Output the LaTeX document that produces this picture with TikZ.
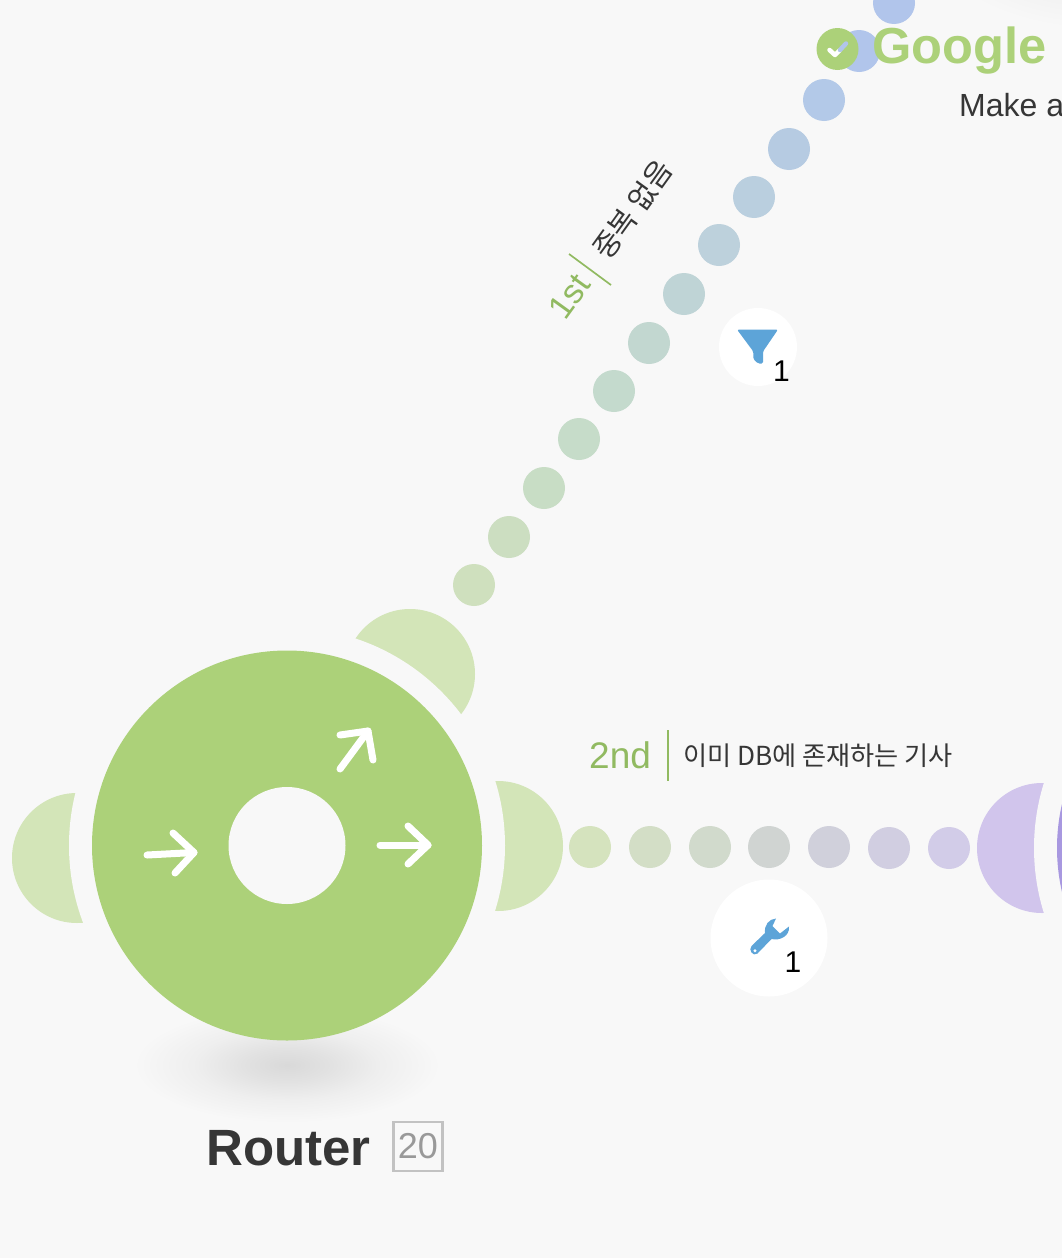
\documentclass[tikz,border=0pt]{standalone}
\usepackage{fontspec}
\setmainfont{Liberation Sans}
\newfontfamily\kr{Noto Sans CJK KR}
\definecolor{bgc}{HTML}{F8F8F8}
\definecolor{grn}{HTML}{ACD179}
\definecolor{pale}{HTML}{D3E5B8}
\definecolor{lav}{HTML}{D1C5EC}
\definecolor{vio}{HTML}{A898E0}
\definecolor{lbl}{HTML}{91BA61}
\definecolor{ink}{HTML}{363636}
\definecolor{icon}{HTML}{5DA4D8}
\definecolor{blu}{HTML}{B1C5EB}
\definecolor{ca1}{RGB}{207,224,190}
\definecolor{ca2}{RGB}{204,222,193}
\definecolor{ca3}{RGB}{200,221,197}
\definecolor{ca4}{RGB}{198,220,201}
\definecolor{ca5}{RGB}{196,218,205}
\definecolor{ca6}{RGB}{194,215,208}
\definecolor{ca7}{RGB}{191,212,214}
\definecolor{ca8}{RGB}{189,209,220}
\definecolor{ca9}{RGB}{186,207,223}
\definecolor{ca10}{RGB}{182,203,226}
\definecolor{ca11}{RGB}{179,201,232}
\definecolor{cb1}{RGB}{213,227,190}
\definecolor{cb2}{RGB}{211,222,198}
\definecolor{cb3}{RGB}{209,218,204}
\definecolor{cb4}{RGB}{208,212,210}
\definecolor{cb5}{RGB}{208,208,219}
\definecolor{cb6}{RGB}{209,206,225}
\definecolor{cb7}{RGB}{210,204,232}
\pgfdeclareradialshading{softshadow}{\pgfpoint{0bp}{0bp}}{
  rgb(0bp)=(0.85,0.85,0.85);
  rgb(7bp)=(0.885,0.885,0.885);
  rgb(15bp)=(0.935,0.935,0.935);
  rgb(25bp)=(0.973,0.973,0.973);
  rgb(50bp)=(0.973,0.973,0.973)}
\tikzset{
  x=1pt,y=-1pt,
  dotc/.style={circle,inner sep=0pt,minimum size=42pt,fill=#1},
  moon/.style={circle,inner sep=0pt,minimum size=130pt,fill=#1},
  badge/.style={circle,inner sep=0pt,fill=white},
  arrowline/.style={white,line width=7pt,line cap=round,line join=round},
  txt/.style={inner sep=0pt,text=ink},
}
\begin{document}
\begin{tikzpicture}
\useasboundingbox (0,0) rectangle (1062,1258);
\fill[bgc] (0,0) rectangle (1062,1258);
% shadow of next module, top right
\shade[shading=softshadow] (1100,-90) ellipse [x radius=190,y radius=120];
% dotted connector 1
\node[dotc=ca1] (a1) at (474,585) {};
\node[dotc=ca2] (a2) at (509,537) {};
\node[dotc=ca3] (a3) at (544,488) {};
\node[dotc=ca4] (a4) at (579,439) {};
\node[dotc=ca5] (a5) at (614,391) {};
\node[dotc=ca6] (a6) at (649,343) {};
\node[dotc=ca7] (a7) at (684,294) {};
\node[dotc=ca8] (a8) at (719,245) {};
\node[dotc=ca9] (a9) at (754,197) {};
\node[dotc=ca10] (a10) at (789,149) {};
\node[dotc=ca11] (a11) at (824,100) {};
\node[dotc=blu] (a12) at (859,51) {};
\node[dotc=blu] (a13) at (894,3) {};
% dotted connector 2
\node[dotc=cb1] (b1) at (590,847) {};
\node[dotc=cb2] (b2) at (650,847) {};
\node[dotc=cb3] (b3) at (710,847) {};
\node[dotc=cb4] (b4) at (769,847) {};
\node[dotc=cb5] (b5) at (829,847) {};
\node[dotc=cb6] (b6) at (889,848) {};
\node[dotc=cb7] (b7) at (949,848) {};
% half-moons
\node[moon=pale] (mr) at (498,846) {};
\node[moon=pale] (ml) at (77,858) {};
\node[moon=pale] (mt) at (410,674) {};
\node[moon=lav] (mp) at (1042,848) {};
\fill[bgc] (287,845.5) circle [radius=218];
\fill[bgc] (1252,848) circle [radius=218];
% shadow of router
\shade[shading=softshadow] (287,1065) ellipse [x radius=154,y radius=58];
% next module edge
\fill[vio] (1252,848) circle [radius=195];
% router
\node[circle,inner sep=0pt,minimum size=390pt,fill=grn] (router) at (287,845.5) {};
\node[circle,inner sep=0pt,minimum size=117pt,fill=bgc] (hole) at (287,845.5) {};
% arrows
\draw[arrowline] (147,855) -- (194,852.5);
\draw[arrowline] (173,833) -- (194,852.5) -- (175,873);
\draw[arrowline] (380,845) -- (428,845);
\draw[arrowline] (408,826) -- (428,845) -- (408,864);
\draw[arrowline] (340,769) -- (368,731);
\draw[arrowline] (340,735) -- (368,731) -- (373,760);
% labels
\node[txt,font=\fontsize{51}{51}\bfseries,anchor=base west] (rlabel) at (206,1165) {Router};
\node[draw=black!24,line width=2.4pt,minimum width=49pt,minimum height=49pt,inner sep=0pt,text=black!40,font=\fontsize{36}{36}\selectfont] (num) at (418,1146.5) {20};
\node[inner sep=0pt,text=lbl,font=\fontsize{37}{37}\selectfont,anchor=base west] (second) at (589,768) {2nd};
\coordinate (s1) at (668,730);
\coordinate (s2) at (668,781);
\draw[lbl,line width=2.4pt] (s1) -- (s2);
\node[txt,font=\kr\fontsize{26.2}{27}\selectfont,anchor=base west] (second2) at (683,765) {이미 DB에 존재하는 기사};
% rotated label
\node[inner sep=0pt,text=lbl,font=\fontsize{34}{34}\selectfont,anchor=base west,rotate=54.2] (first) at (565,322) {1st};
\coordinate (f1) at (569,254);
\coordinate (f2) at (611,285);
\draw[lbl,line width=1.7pt] (f1) -- (f2);
\node[txt,font=\kr\fontsize{29}{29}\selectfont,anchor=base west,rotate=54.2] (first2) at (608,262) {중복 없음};
% funnel badge
\node[badge,minimum size=78pt] (fb) at (758,347) {};
\fill[icon,rounded corners=1.5pt] (737,329.5) -- (778,329.5) -- (763,351.5) -- (763,363.5) -- (758,363.5) -- (753.3,359) -- (753.3,351.5) -- cycle;
\node[inner sep=0pt,font=\fontsize{30}{30}\selectfont,anchor=base] (fn) at (781.5,381) {1};
% wrench badge
\node[badge,minimum size=117pt] (wb) at (769,938) {};
\fill[icon,even odd rule] (776,918.5) .. controls (769,919) and (764,925) .. (765,933) -- (751.5,946) .. controls (748,950) and (753,957) .. (757.5,953.5) -- (771.5,939) .. controls (780,941) and (790,936) .. (789,926.5) -- (780,933.5) -- (772.5,926) -- cycle (755,950.7) circle [radius=1.8];
\node[inner sep=0pt,font=\fontsize{30}{30}\selectfont,anchor=base] (wn) at (793,972) {1};
% google module title
\node[inner sep=0pt,text=grn,font=\fontsize{50.6}{51}\bfseries,anchor=base west] (gt) at (872,63) {Google C};
\node[txt,font=\fontsize{32}{32}\selectfont,anchor=base west] (gs) at (959,116) {Make a};
\node[circle,inner sep=0pt,minimum size=42pt,fill=grn] (chk) at (837.5,49) {};
\draw[white,line width=4.5pt,line cap=round,line join=round] (829.5,50) -- (835,55) -- (839.5,50.5);
\draw[blu,line width=4.5pt,line cap=round] (840,50) -- (846,43.5);
\end{tikzpicture}
\end{document}
